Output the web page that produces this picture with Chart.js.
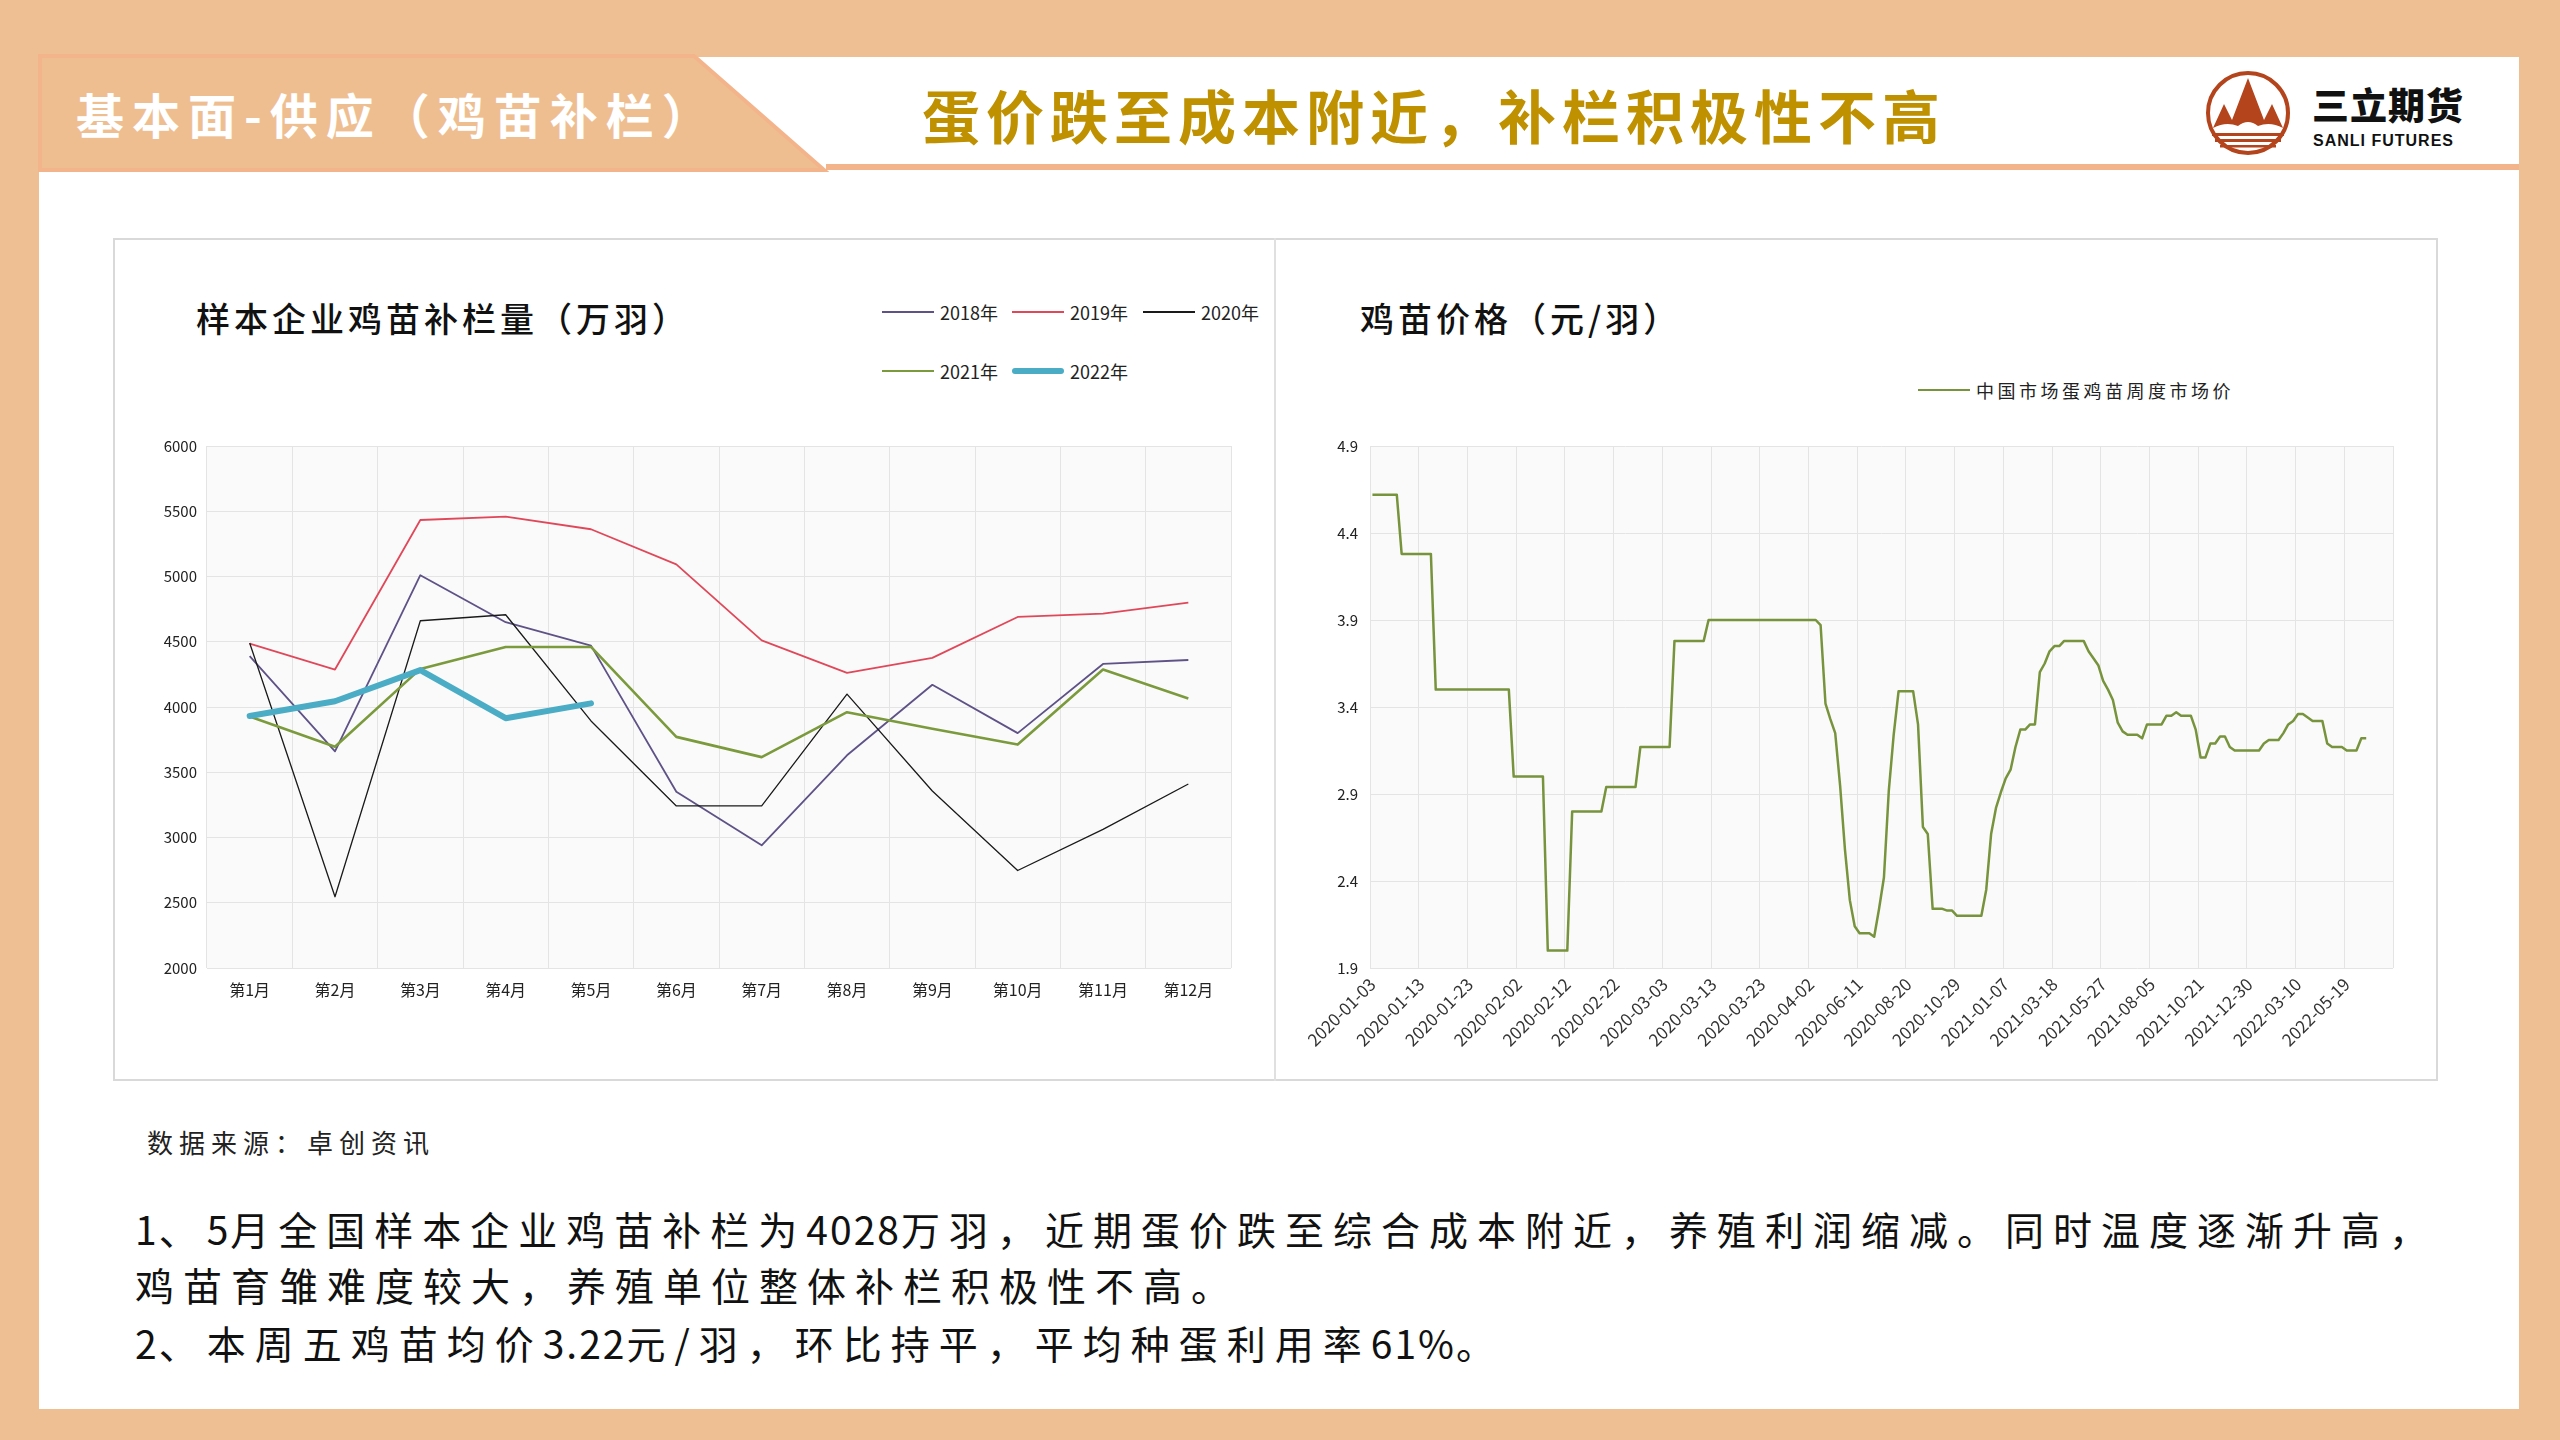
<!DOCTYPE html>
<html lang="zh-CN">
<head>
<meta charset="utf-8">
<title>基本面-供应（鸡苗补栏）</title>
<script src="https://cdn.jsdelivr.net/npm/chart.js@4.4.1/dist/chart.umd.min.js"></script>
<style>
  html, body { margin:0; padding:0; }
  body { width:2560px; height:1440px; position:relative; overflow:hidden; background:#EEBF92;
         font-family:"Noto Sans CJK SC","Noto Sans",sans-serif; }
  .abs { position:absolute; }
  #panel { left:39px; top:57px; width:2480px; height:1352px; background:#ffffff; }
  #tabText { left:76px; top:82px; line-height:62px; font-size:48px; font-weight:700; color:#ffffff; letter-spacing:8px; white-space:nowrap; }
  #mainTitle { left:922px; top:80px; line-height:68px; font-size:58px; font-weight:700; color:#BF9000; letter-spacing:6px; white-space:nowrap; }
  #logoCn { left:2312px; top:82px; font-size:37px; font-weight:900; color:#111; line-height:44px; letter-spacing:1px; white-space:nowrap; }
  #logoEn { left:2313px; top:131px; font-size:16px; font-weight:700; color:#111; line-height:20px; letter-spacing:1px; white-space:nowrap; font-family:"Liberation Sans","DejaVu Sans",sans-serif; }
  #frame { left:113px; top:238px; width:2325px; height:843px; box-sizing:border-box; border:2px solid #D9D9D9; background:#ffffff; }
  #divider { left:1274px; top:238px; width:2px; height:843px; background:#E0E0E0; }
  canvas { position:absolute; }
  .ctitle { font-size:34px; font-weight:500; color:#111; letter-spacing:4px; white-space:nowrap; line-height:44px; }
  .leg { display:flex; align-items:center; font-size:18px; color:#222; white-space:nowrap; height:24px; }
  .leg i { display:inline-block; width:52px; margin-right:6px; }
  #src { left:147px; top:1124px; font-size:26px; color:#222; letter-spacing:6px; line-height:36px; white-space:nowrap; }
  .para { left:135px; font-size:39px; color:#111; letter-spacing:9px; line-height:50px; white-space:nowrap; }
  .para b { font-weight:400; letter-spacing:2px; }
</style>
</head>
<body>
<div id="panel" class="abs"></div>

<svg class="abs" style="left:0;top:0" width="2560" height="180">
  <rect x="826" y="164" width="1693" height="6" fill="#F3B48B"></rect>
  <polygon points="40,56 694,56 824,170 40,170" fill="#EEBE91" stroke="#F3B48B" stroke-width="4"></polygon>
</svg>
<div id="tabText" class="abs">基本面-供应（鸡苗补栏）</div>
<div id="mainTitle" class="abs">蛋价跌至成本附近，补栏积极性不高</div>

<svg class="abs" style="left:2200px;top:66px" width="100" height="100" viewBox="0 0 100 100">
  <circle cx="48" cy="47" r="40" fill="none" stroke="#B4441C" stroke-width="4"></circle>
  <path d="M13,62 L24,38 L32,54 L48,12 L64,54 L72,38 L83,62 Q70,55 58,60 Q48,52 38,60 Q26,55 13,62 Z" fill="#B4441C"></path>
  <rect x="12" y="67" width="72" height="3" fill="#B4441C"></rect>
  <rect x="15" y="73" width="66" height="3" fill="#B4441C"></rect>
  <rect x="20" y="79" width="56" height="2.5" fill="#B4441C"></rect>
</svg>
<div id="logoCn" class="abs">三立期货</div>
<div id="logoEn" class="abs">SANLI FUTURES</div>

<div id="frame" class="abs"></div>
<div id="divider" class="abs"></div>

<div class="abs ctitle" style="left:196px;top:296px;">样本企业鸡苗补栏量（万羽）</div>
<div class="abs ctitle" style="left:1360px;top:296px;">鸡苗价格（元/羽）</div>
<div id="legLeft"></div>
<div id="legRight"></div>

<canvas id="c1" width="1162" height="843" style="left:113px;top:238px;"></canvas>
<canvas id="c2" width="1163" height="843" style="left:1275px;top:238px;"></canvas>

<div id="src" class="abs">数据来源：卓创资讯</div>
<div class="abs para" style="top:1203px;"><b>1</b>、<b>5</b>月全国样本企业鸡苗补栏为<b>4028</b>万羽，近期蛋价跌至综合成本附近，养殖利润缩减。同时温度逐渐升高，</div>
<div class="abs para" style="top:1259px;">鸡苗育雏难度较大，养殖单位整体补栏积极性不高。</div>
<div class="abs para" style="top:1317px;"><b>2</b>、本周五鸡苗均价<b>3.22</b>元/羽，环比持平，平均种蛋利用率<b>61%</b>。</div>

<script>
// ---------- Left chart data ----------
const monthLabels = ['第1月','第2月','第3月','第4月','第5月','第6月','第7月','第8月','第9月','第10月','第11月','第12月'];
const yTicksLeft = [2000, 2500, 3000, 3500, 4000, 4500, 5000, 5500, 6000];
const seriesNames = ['2018年', '2019年', '2020年', '2021年', '2022年'];
const s2018 = [4390, 3660, 5010, 4650, 4470, 3350, 2940, 3630, 4170, 3800, 4330, 4360];
const s2019 = [4485, 4287, 5433, 5459, 5362, 5093, 4510, 4262, 4376, 4690, 4716, 4800];
const s2020 = [4490, 2546, 4661, 4707, 3893, 3242, 3242, 4099, 3356, 2747, 3062, 3410];
const s2021 = [3927, 3696, 4292, 4460, 4460, 3771, 3616, 3960, 3834, 3712, 4287, 4065];
const s2022 = [3931, 4044, 4283, 3914, 4028];

// ---------- Right chart data ----------
const priceSeriesName = '中国市场蛋鸡苗周度市场价';
const yTicksRight = [1.9, 2.4, 2.9, 3.4, 3.9, 4.4, 4.9];
const dailyStart = '2020-01-03';   // daily quotes up to 2020-04-02
const dailyEnd = '2020-04-02';     // weekly quotes afterwards
const skippedWeeks = ['2021-10-07'];
const priceValues = [
  4.62,4.62,4.62,4.62,4.62,4.62,4.28,4.28,4.28,4.28,
  4.28,4.28,4.28,3.50,3.50,3.50,3.50,3.50,3.50,3.50,
  3.50,3.50,3.50,3.50,3.50,3.50,3.50,3.50,3.50,3.00,
  3.00,3.00,3.00,3.00,3.00,3.00,2.00,2.00,2.00,2.00,
  2.00,2.80,2.80,2.80,2.80,2.80,2.80,2.80,2.94,2.94,
  2.94,2.94,2.94,2.94,2.94,3.17,3.17,3.17,3.17,3.17,
  3.17,3.17,3.78,3.78,3.78,3.78,3.78,3.78,3.78,3.90,
  3.90,3.90,3.90,3.90,3.90,3.90,3.90,3.90,3.90,3.90,
  3.90,3.90,3.90,3.90,3.90,3.90,3.90,3.90,3.90,3.90,
  3.90,3.90,3.87,3.42,3.33,3.25,2.95,2.58,2.29,2.14,
  2.10,2.10,2.10,2.08,2.24,2.42,2.92,3.24,3.49,3.49,
  3.49,3.49,3.30,2.71,2.67,2.24,2.24,2.24,2.23,2.23,
  2.20,2.20,2.20,2.20,2.20,2.20,2.35,2.67,2.82,2.91,
  2.99,3.04,3.17,3.27,3.27,3.30,3.30,3.60,3.65,3.72,
  3.75,3.75,3.78,3.78,3.78,3.78,3.78,3.72,3.68,3.64,
  3.55,3.50,3.44,3.31,3.26,3.24,3.24,3.24,3.22,3.30,
  3.30,3.30,3.30,3.35,3.35,3.37,3.35,3.35,3.35,3.27,
  3.11,3.11,3.19,3.19,3.23,3.23,3.17,3.15,3.15,3.15,
  3.15,3.15,3.15,3.19,3.21,3.21,3.21,3.25,3.30,3.32,
  3.36,3.36,3.34,3.32,3.32,3.32,3.19,3.17,3.17,3.17,
  3.15,3.15,3.15,3.22,3.22,
  null,null,null,null,null
];

// category dates: daily, then weekly
function buildDates(total) {
  const pad = n => String(n).padStart(2, '0');
  const fmt = d => d.getUTCFullYear() + '-' + pad(d.getUTCMonth() + 1) + '-' + pad(d.getUTCDate());
  const parse = s => { const p = s.split('-').map(Number); return new Date(Date.UTC(p[0], p[1] - 1, p[2])); };
  const out = [];
  let d = parse(dailyStart);
  const end = parse(dailyEnd);
  while (d <= end) { out.push(fmt(d)); d = new Date(d.getTime() + 86400000); }
  d = end;
  while (out.length < total) {
    d = new Date(d.getTime() + 7 * 86400000);
    if (skippedWeeks.includes(fmt(d))) continue;
    out.push(fmt(d));
  }
  return out;
}
const priceDates = buildDates(priceValues.length);

// ---------- styles ----------
const leftColors = ['#5E5286', '#E0485A', '#1A1A1A', '#7B9A3C', '#4BACC6'];
const leftWidths = [1.8, 1.8, 1.3, 2.6, 6];
const rightColor = '#77933C';
const gridColor = '#E4E4E4';
const fontFamily = '"Noto Sans CJK SC", "Noto Sans", sans-serif';
Chart.defaults.font.family = fontFamily;

// ---------- HTML legends ----------
(function buildLegends() {
  const pos = [[882, 312], [1012, 312], [1143, 312], [882, 371], [1012, 371]];
  const L = document.getElementById('legLeft');
  seriesNames.forEach((n, i) => {
    const el = document.createElement('div');
    el.className = 'abs leg';
    el.style.left = pos[i][0] + 'px';
    el.style.top = (pos[i][1] - 12) + 'px';
    const h = i === 4 ? 6 : 2.5;
    el.innerHTML = '<i style="height:' + h + 'px;background:' + leftColors[i] + ';border-radius:' + (i === 4 ? 3 : 0) + 'px"></i>' + n;
    L.appendChild(el);
  });
  const R = document.getElementById('legRight');
  const el = document.createElement('div');
  el.className = 'abs leg';
  el.style.left = '1918px';
  el.style.top = (390 - 12) + 'px';
  el.style.fontSize = '18px';
  el.style.letterSpacing = '3.5px';
  el.innerHTML = '<i style="height:2.5px;background:' + rightColor + '"></i>' + priceSeriesName;
  R.appendChild(el);
})();

const plotBg = {
  id: 'plotBg',
  beforeDraw(chart) {
    const a = chart.chartArea, ctx = chart.ctx;
    ctx.save();
    ctx.fillStyle = '#FAFAFA';
    ctx.fillRect(a.left, a.top, a.right - a.left, a.bottom - a.top);
    ctx.restore();
  }
};

// ---------- Left chart ----------
const leftData = [s2018, s2019, s2020, s2021, s2022];
new Chart(document.getElementById('c1'), {
  type: 'line',
  data: {
    labels: monthLabels,
    datasets: leftData.map((arr, i) => ({
      label: seriesNames[i],
      data: arr,
      borderColor: leftColors[i],
      backgroundColor: leftColors[i],
      borderWidth: leftWidths[i],
      pointRadius: 0,
      tension: 0,
      fill: false,
      order: 5 - i,
      borderCapStyle: i === 4 ? 'round' : 'butt',
      borderJoinStyle: 'round'
    }))
  },
  options: {
    responsive: false,
    animation: false,
    devicePixelRatio: 1,
    layout: { padding: { top: 208, right: 44, left: 0, bottom: 0 } },
    plugins: { legend: { display: false }, tooltip: { enabled: false }, title: { display: false } },
    scales: {
      x: {
        offset: true,
        grid: { offset: true, color: gridColor, lineWidth: 1, drawTicks: false },
        border: { display: false },
        ticks: { padding: 12, color: '#222', font: { size: 16 }, maxRotation: 0, autoSkip: false },
        afterFit(s) { s.height = 113; }
      },
      y: {
        min: 2000, max: 6000,
        grid: { color: gridColor, lineWidth: 1, drawTicks: false },
        border: { display: false },
        afterBuildTicks(s) { s.ticks = yTicksLeft.map(v => ({ value: v })); },
        ticks: { padding: 10, color: '#222', font: { size: 15 }, callback: v => String(v) },
        afterFit(s) { s.width = 94; }
      }
    }
  },
  plugins: [plotBg]
});

// ---------- Right chart ----------
new Chart(document.getElementById('c2'), {
  type: 'line',
  data: {
    labels: priceDates,
    datasets: [{
      label: priceSeriesName,
      data: priceValues,
      borderColor: rightColor,
      backgroundColor: rightColor,
      borderWidth: 2.5,
      pointRadius: 0,
      tension: 0,
      fill: false,
      spanGaps: false,
      borderJoinStyle: 'round'
    }]
  },
  options: {
    responsive: false,
    animation: false,
    devicePixelRatio: 1,
    layout: { padding: { top: 208, right: 45, left: 0, bottom: 0 } },
    plugins: { legend: { display: false }, tooltip: { enabled: false }, title: { display: false } },
    scales: {
      x: {
        offset: true,
        grid: {
          offset: true, drawTicks: false, lineWidth: 1,
          color: c => (c.index === undefined || c.index % 10 === 0) ? gridColor : 'rgba(0,0,0,0)'
        },
        border: { display: false },
        ticks: {
          autoSkip: false, minRotation: 45, maxRotation: 45, padding: 6,
          color: '#333', font: { size: 17 },
          callback: function (v, i) { return i % 10 === 0 ? this.getLabelForValue(v) : ''; }
        },
        afterFit(s) { s.height = 113; }
      },
      y: {
        min: 1.9, max: 4.9,
        grid: { color: gridColor, lineWidth: 1, drawTicks: false },
        border: { display: false },
        afterBuildTicks(s) { s.ticks = yTicksRight.map(v => ({ value: v })); },
        ticks: { padding: 12, color: '#222', font: { size: 15 }, callback: v => Number(v).toFixed(1) },
        afterFit(s) { s.width = 95; }
      }
    }
  },
  plugins: [plotBg]
});
</script>
</body>
</html>
